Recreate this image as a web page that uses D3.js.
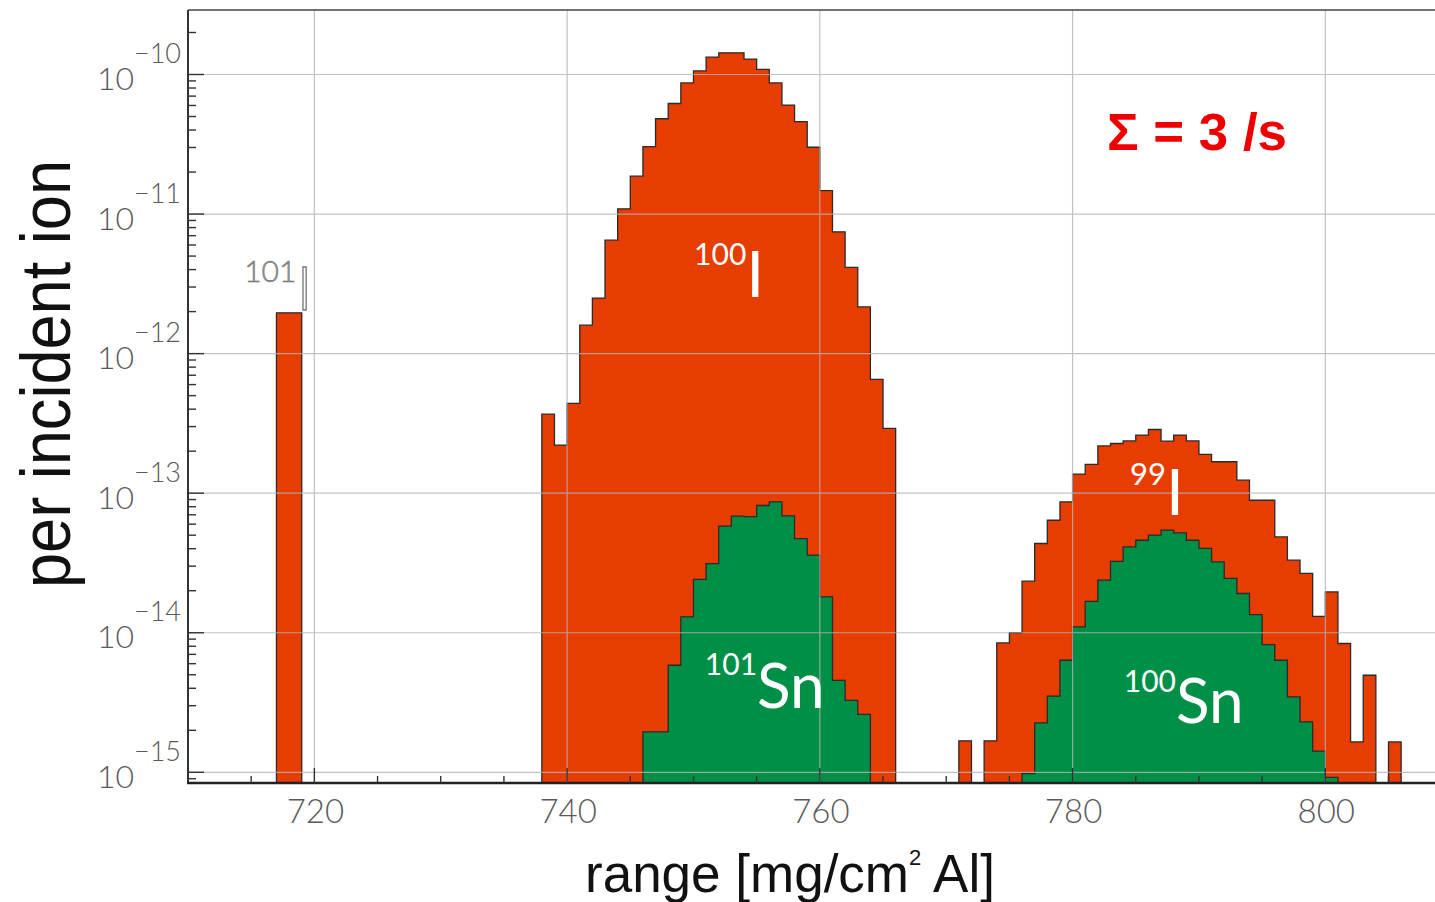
<!DOCTYPE html>
<html><head><meta charset="utf-8">
<script src="https://cdn.jsdelivr.net/npm/d3@7"></script>
<style>html,body{margin:0;padding:0;background:#fff;} svg{display:block;}</style>
</head><body><svg id="chart" width="1435" height="902"></svg>
<script>
// ---------------- data ----------------
const xTickValues = [720, 740, 760, 780, 800];
const xTickLabels = ["720", "740", "760", "780", "800"];
const yDecades = [-10, -11, -12, -13, -14, -15];
const yTickLabels = ["\u221210", "\u221211", "\u221212", "\u221213", "\u221214", "\u221215"];

// red histogram (iodine isotopes), 1 mg/cm^2 bins, first bin edge + contents
const i101Start = 717;
const i101Values = [1.96e-12, 1.96e-12];
const i100Start = 738;
const i100Values = [3.68e-13, 2.21e-13, 4.4e-13, 1.6e-12, 2.5e-12, 6.5e-12, 1.09e-11, 1.87e-11,
  3.04e-11, 4.82e-11, 6.2e-11, 8.7e-11, 1.06e-10, 1.33e-10, 1.43e-10, 1.43e-10, 1.29e-10,
  1.09e-10, 8.7e-11, 6.04e-11, 4.59e-11, 3.01e-11, 1.47e-11, 7.46e-12, 4.15e-12, 2.16e-12,
  6.53e-13, 2.91e-13];
const i99Start = 771;
const i99Values = [1.68e-15, 0, 1.68e-15, 8.45e-15, 1.0e-14, 2.34e-14, 4.36e-14, 6.4e-14, 8.67e-14,
  1.37e-13, 1.61e-13, 2.18e-13, 2.27e-13, 2.37e-13, 2.61e-13, 2.86e-13, 2.36e-13, 2.61e-13,
  2.37e-13, 1.90e-13, 1.68e-13, 1.68e-13, 1.24e-13, 8.9e-14, 8.9e-14, 4.86e-14, 3.31e-14,
  2.66e-14, 1.31e-14, 1.96e-14, 8.37e-15, 1.65e-15, 4.96e-15, 0, 1.65e-15];

// green histogram (tin isotopes)
const sn101Start = 746;
const sn101Values = [1.95e-15, 1.95e-15, 5.85e-15, 1.30e-14, 2.41e-14, 3.13e-14, 5.80e-14, 6.84e-14,
  6.8e-14, 8.16e-14, 8.67e-14, 6.88e-14, 4.73e-14, 3.60e-14, 1.81e-14, 4.56e-15, 3.28e-15, 2.6e-15];
const sn100Start = 776;
const sn100Values = [9.8e-16, 2.26e-15, 3.51e-15, 6.35e-15, 1.10e-14, 1.68e-14, 2.38e-14, 3.25e-14,
  4.12e-14, 4.6e-14, 5.0e-14, 5.43e-14, 5.19e-14, 4.6e-14, 4.02e-14, 3.22e-14, 2.45e-14, 1.91e-14,
  1.35e-14, 8.23e-15, 6.35e-15, 3.47e-15, 2.30e-15, 1.42e-15, 9.2e-16];

// ---------------- layout ----------------
const W = 1435, H = 902;
const plot = {left: 188, right: 1435, top: 10, bottom: 783};
const x = d3.scaleLinear().domain([710, 808.68]).range([plot.left, plot.right]);
const y = d3.scaleLog().domain([Math.pow(10, -15.0767), Math.pow(10, -9.5378)]).range([plot.bottom, plot.top]);

const RED = "#e83d00", GREEN = "#008f47", OUT = "#2a2a2a";
const tickFont = "Lato, 'Open Sans', 'Noto Sans', sans-serif";
const titleFont = "'Liberation Sans', Arial, sans-serif";

const svg = d3.select("#chart");
svg.append("rect").attr("width", W).attr("height", H).attr("fill", "#fff");

svg.append("defs").append("clipPath").attr("id", "clip")
  .append("rect").attr("x", plot.left).attr("y", plot.top)
  .attr("width", plot.right - plot.left).attr("height", plot.bottom - plot.top);

function yv(v) { return v > 0 ? Math.min(y(v), plot.bottom) : plot.bottom; }
function histPoints(start, values) {
  const pts = [[x(start), plot.bottom]];
  values.forEach((v, i) => {
    pts.push([x(start + i), yv(v)]);
    pts.push([x(start + i + 1), yv(v)]);
  });
  pts.push([x(start + values.length), plot.bottom]);
  return pts;
}
// combine two series with empty bins in between
function joinSeries(s1, v1, s2, v2) {
  const gap = s2 - (s1 + v1.length);
  return v1.concat(new Array(gap).fill(0), v2);
}
const line = d3.line();
const g = svg.append("g").attr("clip-path", "url(#clip)");

[[i101Start, i101Values], [i100Start, i100Values], [i99Start, i99Values]].forEach(([s, v]) => {
  g.append("path").attr("d", line(histPoints(s, v)) + "Z")
    .attr("fill", RED).attr("stroke", OUT).attr("stroke-width", 1.3).attr("stroke-linejoin", "miter");
});
const greenAll = joinSeries(sn101Start, sn101Values, sn100Start, sn100Values);
g.append("path").attr("d", line(histPoints(sn101Start, greenAll)) + "Z")
  .attr("fill", GREEN).attr("stroke", OUT).attr("stroke-width", 1.3);

// gridlines (drawn over the bars, as in the original)
const grid = svg.append("g").attr("stroke", "#b4b4b4").attr("stroke-width", 1.2).attr("opacity", 0.8);
yDecades.forEach(d => {
  grid.append("line").attr("x1", plot.left).attr("x2", plot.right)
    .attr("y1", y(Math.pow(10, d))).attr("y2", y(Math.pow(10, d)));
});
xTickValues.forEach(v => {
  grid.append("line").attr("y1", plot.top).attr("y2", plot.bottom)
    .attr("x1", x(v)).attr("x2", x(v));
});

// axes frame
const ax = svg.append("g");
ax.append("line").attr("x1", plot.left).attr("x2", plot.right).attr("y1", plot.top).attr("y2", plot.top)
  .attr("stroke", "#444").attr("stroke-width", 1.6);
ax.append("line").attr("x1", plot.left).attr("x2", plot.left).attr("y1", plot.top).attr("y2", plot.bottom)
  .attr("stroke", "#333").attr("stroke-width", 2);
ax.append("line").attr("x1", plot.left - 1).attr("x2", plot.right).attr("y1", plot.bottom).attr("y2", plot.bottom)
  .attr("stroke", "#222").attr("stroke-width", 2.6);

// y ticks (log minor ticks, inward)
for (let d = -16; d <= -9; d++) {
  for (let m = 1; m <= 9; m++) {
    const v = m * Math.pow(10, d);
    const py = y(v);
    if (py < plot.top + 1 || py > plot.bottom - 1) continue;
    ax.append("line").attr("x1", plot.left).attr("x2", plot.left + (m === 1 ? 16 : 8))
      .attr("y1", py).attr("y2", py).attr("stroke", "#333").attr("stroke-width", 1.4);
  }
}
// x ticks (minor every 5, inward)
for (let v = 715; v <= 805; v += 5) {
  const major = v % 20 === 0;
  ax.append("line").attr("x1", x(v)).attr("x2", x(v))
    .attr("y1", plot.bottom).attr("y2", plot.bottom - (major ? 15 : 7))
    .attr("stroke", "#333").attr("stroke-width", 1.4);
}

// tick labels
const TL = "#5a5a5a";
xTickValues.forEach((v, i) => {
  svg.append("text").attr("x", x(v) + 1).attr("y", 823)
    .attr("text-anchor", "middle").attr("font-family", tickFont).attr("font-weight", 300)
    .attr("font-size", 33).attr("fill", TL).text(xTickLabels[i]);
});
yDecades.forEach((d, i) => {
  const t = svg.append("text").attr("x", 181).attr("y", y(Math.pow(10, d)) + 15.5)
    .attr("text-anchor", "end").attr("font-family", tickFont).attr("font-weight", 300)
    .attr("fill", TL).attr("font-size", 32);
  t.append("tspan").text("10");
  t.append("tspan").attr("dy", -27).attr("font-size", 27).text(yTickLabels[i]);
});

// axis titles
const xt = svg.append("text").attr("x", 585).attr("y", 892)
  .attr("font-family", titleFont).attr("font-size", 53).attr("fill", "#111");
xt.append("tspan").text("range [mg/cm");
xt.append("tspan").attr("dy", -27).attr("font-size", 22).text("2");
xt.append("tspan").attr("dy", 27).text(" Al]");

svg.append("text").attr("transform", "translate(70,374) rotate(-90)")
  .attr("text-anchor", "middle").attr("font-family", titleFont).attr("font-size", 70)
  .attr("fill", "#111").attr("textLength", 428).attr("lengthAdjust", "spacingAndGlyphs")
  .text("per incident ion");

// sum annotation
svg.append("text").attr("x", x(782.72)).attr("y", y(2.88e-11))
  .attr("font-family", titleFont).attr("font-weight", "bold").attr("font-size", 51)
  .attr("fill", "#ee0000").attr("textLength", 180).attr("lengthAdjust", "spacingAndGlyphs")
  .text("\u03A3 = 3 /s");

// isotope labels
function isoLabel(xd, yd, sup, main, supSize, mainSize, rise, fill, outlined) {
  const t = svg.append("text").attr("x", x(xd)).attr("y", y(yd))
    .attr("font-family", tickFont).attr("font-weight", 400).attr("fill", fill);
  const a = t.append("tspan").attr("dy", -rise).attr("font-size", supSize).text(sup);
  const b = t.append("tspan").attr("dy", rise).attr("font-size", mainSize).text(main);
  if (outlined) {
    a.attr("fill", "#9a9a9a").attr("stroke", "#666").attr("stroke-width", 0.5).attr("font-weight", 300);
    b.attr("fill", "#fff").attr("stroke", "#777").attr("stroke-width", 1.3).attr("font-weight", 300);
  }
  return t;
}
isoLabel(750.05, 2.55e-12, "100", "I", 30, 64, 32, "#fff");
isoLabel(750.9, 2.89e-15, "101", "Sn", 30, 62, 33, "#fff");
isoLabel(784.55, 6.98e-14, "99", "I", 31, 64, 30, "#fff");
isoLabel(784.05, 2.25e-15, "100", "Sn", 30, 62, 31, "#fff");
isoLabel(714.45, 2.05e-12, "101", "I", 30, 62, 28, "#fff", true);
</script>
</body></html>
